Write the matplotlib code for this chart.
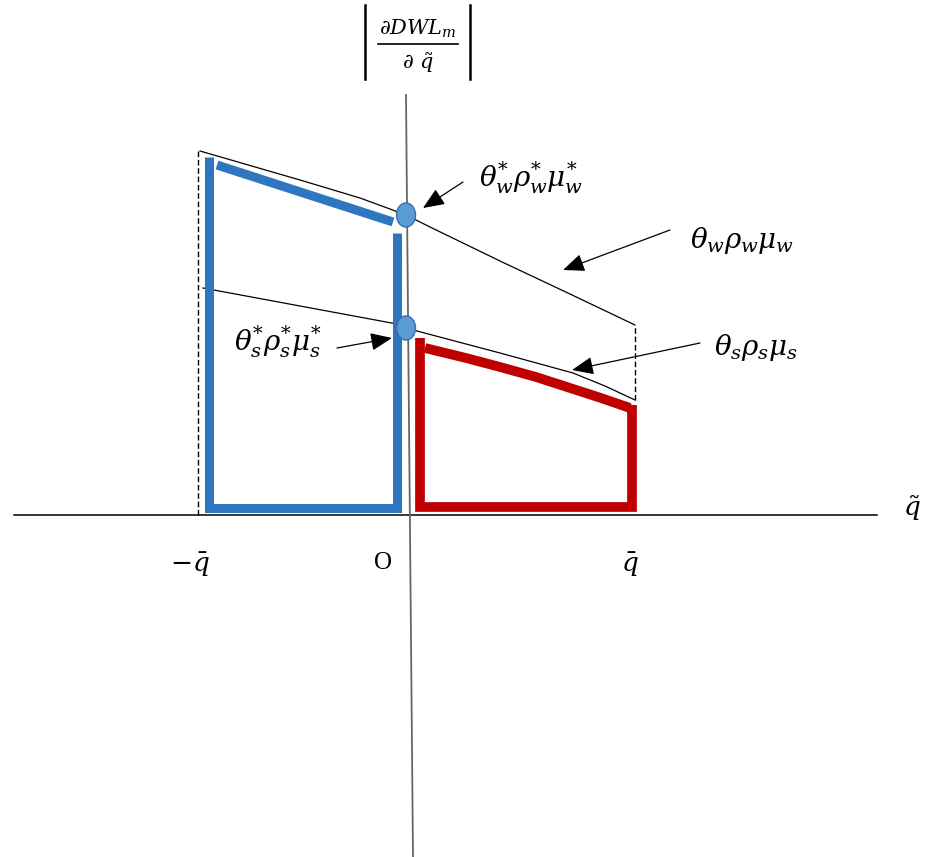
import matplotlib
matplotlib.use("Agg")
import matplotlib.pyplot as plt
from matplotlib.patches import Ellipse, FancyArrowPatch
import numpy as np

plt.rcParams['mathtext.fontset'] = 'dejavuserif'
plt.rcParams['font.family'] = ['DejaVu Serif']

# ---- data (x: quantity axis, y: marginal deadweight loss), origin at O ----
q_w = [-206, -106, -46, -16, 0, 24, 94, 164, 229]
w_curve = [364, 335, 317, 306, 300, 288, 254, 221, 190]      # theta_w rho_w mu_w
q_s = [-203, -106, -9, 11, 94, 167, 199, 229]
s_curve = [227, 209, 191, 184, 162, 142, 129, 115]           # theta_s rho_s mu_s

blue_top_q = [-189, -13]
blue_top_v = [350, 293]
blue_frame_q = [-197, -197, -9, -9]
blue_frame_v = [358, 7, 7, 282]

red_top_q = [19, 60, 94, 130, 161, 195, 224]
red_top_v = [167, 157, 148, 138, 128, 117, 107]
red_frame_q = [226, 226, 14, 14]
red_frame_v = [110, 8, 8, 177]

q_bar = 229
q_bar_neg = -208
star_w = (0, 300)
star_s = (0, 187)

labels = {
    'wstar': (125, 337, r'$\theta_w^{*}\rho_w^{*}\mu_w^{*}$'),
    'w': (336, 275, r'$\theta_w\rho_w\mu_w$'),
    's': (350, 168, r'$\theta_s\rho_s\mu_s$'),
    'sstar': (-128, 173, r'$\theta_s^{*}\rho_s^{*}\mu_s^{*}$'),
}
arrows = [((57, 333), (17, 307)),
          ((264, 285), (157, 245)),
          ((294, 172), (166, 145)),
          ((-69, 167), (-14, 177))]

fig = plt.figure(figsize=(9.25, 8.57), dpi=100)
ax = fig.add_axes([0, 0, 1, 1])
ax.set_xlim(-406, 519)
ax.set_ylim(-342, 515)
ax.axis('off')

# axes
ax.plot([-392, 471], [0, 0], color='black', lw=1.1, zorder=1)
ax.plot([0, 7], [420, -342], color='#666666', lw=1.3, zorder=1)

# thin curves
ax.plot(q_w, w_curve, color='black', lw=0.9, zorder=2)
ax.plot(q_s, s_curve, color='black', lw=0.9, zorder=2)

# dashed verticals
ax.plot([q_bar_neg, q_bar_neg], [0, w_curve[0]], color='black', lw=1.0,
        ls=(0, (4, 2)), zorder=2)
ax.plot([q_bar, q_bar], [s_curve[-1], w_curve[-1]], color='black', lw=1.0,
        ls=(0, (4, 2)), zorder=2)

blue = '#2F76C0'
red = '#C00000'
ax.plot(blue_top_q, blue_top_v, color=blue, lw=6.5, solid_capstyle='butt', zorder=3)
ax.plot(blue_frame_q, blue_frame_v, color=blue, lw=6.5, solid_capstyle='butt',
        solid_joinstyle='miter', zorder=3)
ax.plot(red_top_q, red_top_v, color=red, lw=7, solid_capstyle='butt',
        solid_joinstyle='round', zorder=3)
ax.plot(red_frame_q, red_frame_v, color=red, lw=7, solid_capstyle='butt',
        solid_joinstyle='miter', zorder=3)

for c in (star_w, star_s):
    ax.add_patch(Ellipse(c, 19, 24, facecolor='#5B9BD5', edgecolor='#3A6EA5',
                         lw=1.0, zorder=4))

for tail, tip in arrows:
    ax.add_patch(FancyArrowPatch(tail, tip,
                                 arrowstyle='-|>,head_length=0.6,head_width=0.25',
                                 mutation_scale=22, color='black', lw=0.9,
                                 shrinkA=0, shrinkB=0, zorder=5))

for key, (x, y, s) in labels.items():
    ax.text(x, y, s, fontsize=20, ha='center', va='center', color='black')

# y-axis title: |dDWL_m / d q~|
ax.text(12, 486, r'$\partial DWL_m$', fontsize=15, ha='center', va='center')
ax.plot([-28, 52], [471, 471], color='black', lw=1.2)
ax.text(12, 452, r'$\partial\ \tilde{q}$', fontsize=15, ha='center', va='center')
ax.plot([-41, -41], [436, 510], color='black', lw=1.8)
ax.plot([64, 64], [436, 510], color='black', lw=1.8)

ax.text(-216, -50, r'$-\bar{q}$', fontsize=19, ha='center', va='center')
ax.text(224, -50, r'$\bar{q}$', fontsize=19, ha='center', va='center')
ax.text(-23, -48, 'O', fontsize=18, ha='center', va='center',
        family=['Liberation Serif', 'DejaVu Serif'])
ax.text(506, 7, r'$\tilde{q}$', fontsize=19, ha='center', va='center')

fig.savefig('out.png', dpi=100)
